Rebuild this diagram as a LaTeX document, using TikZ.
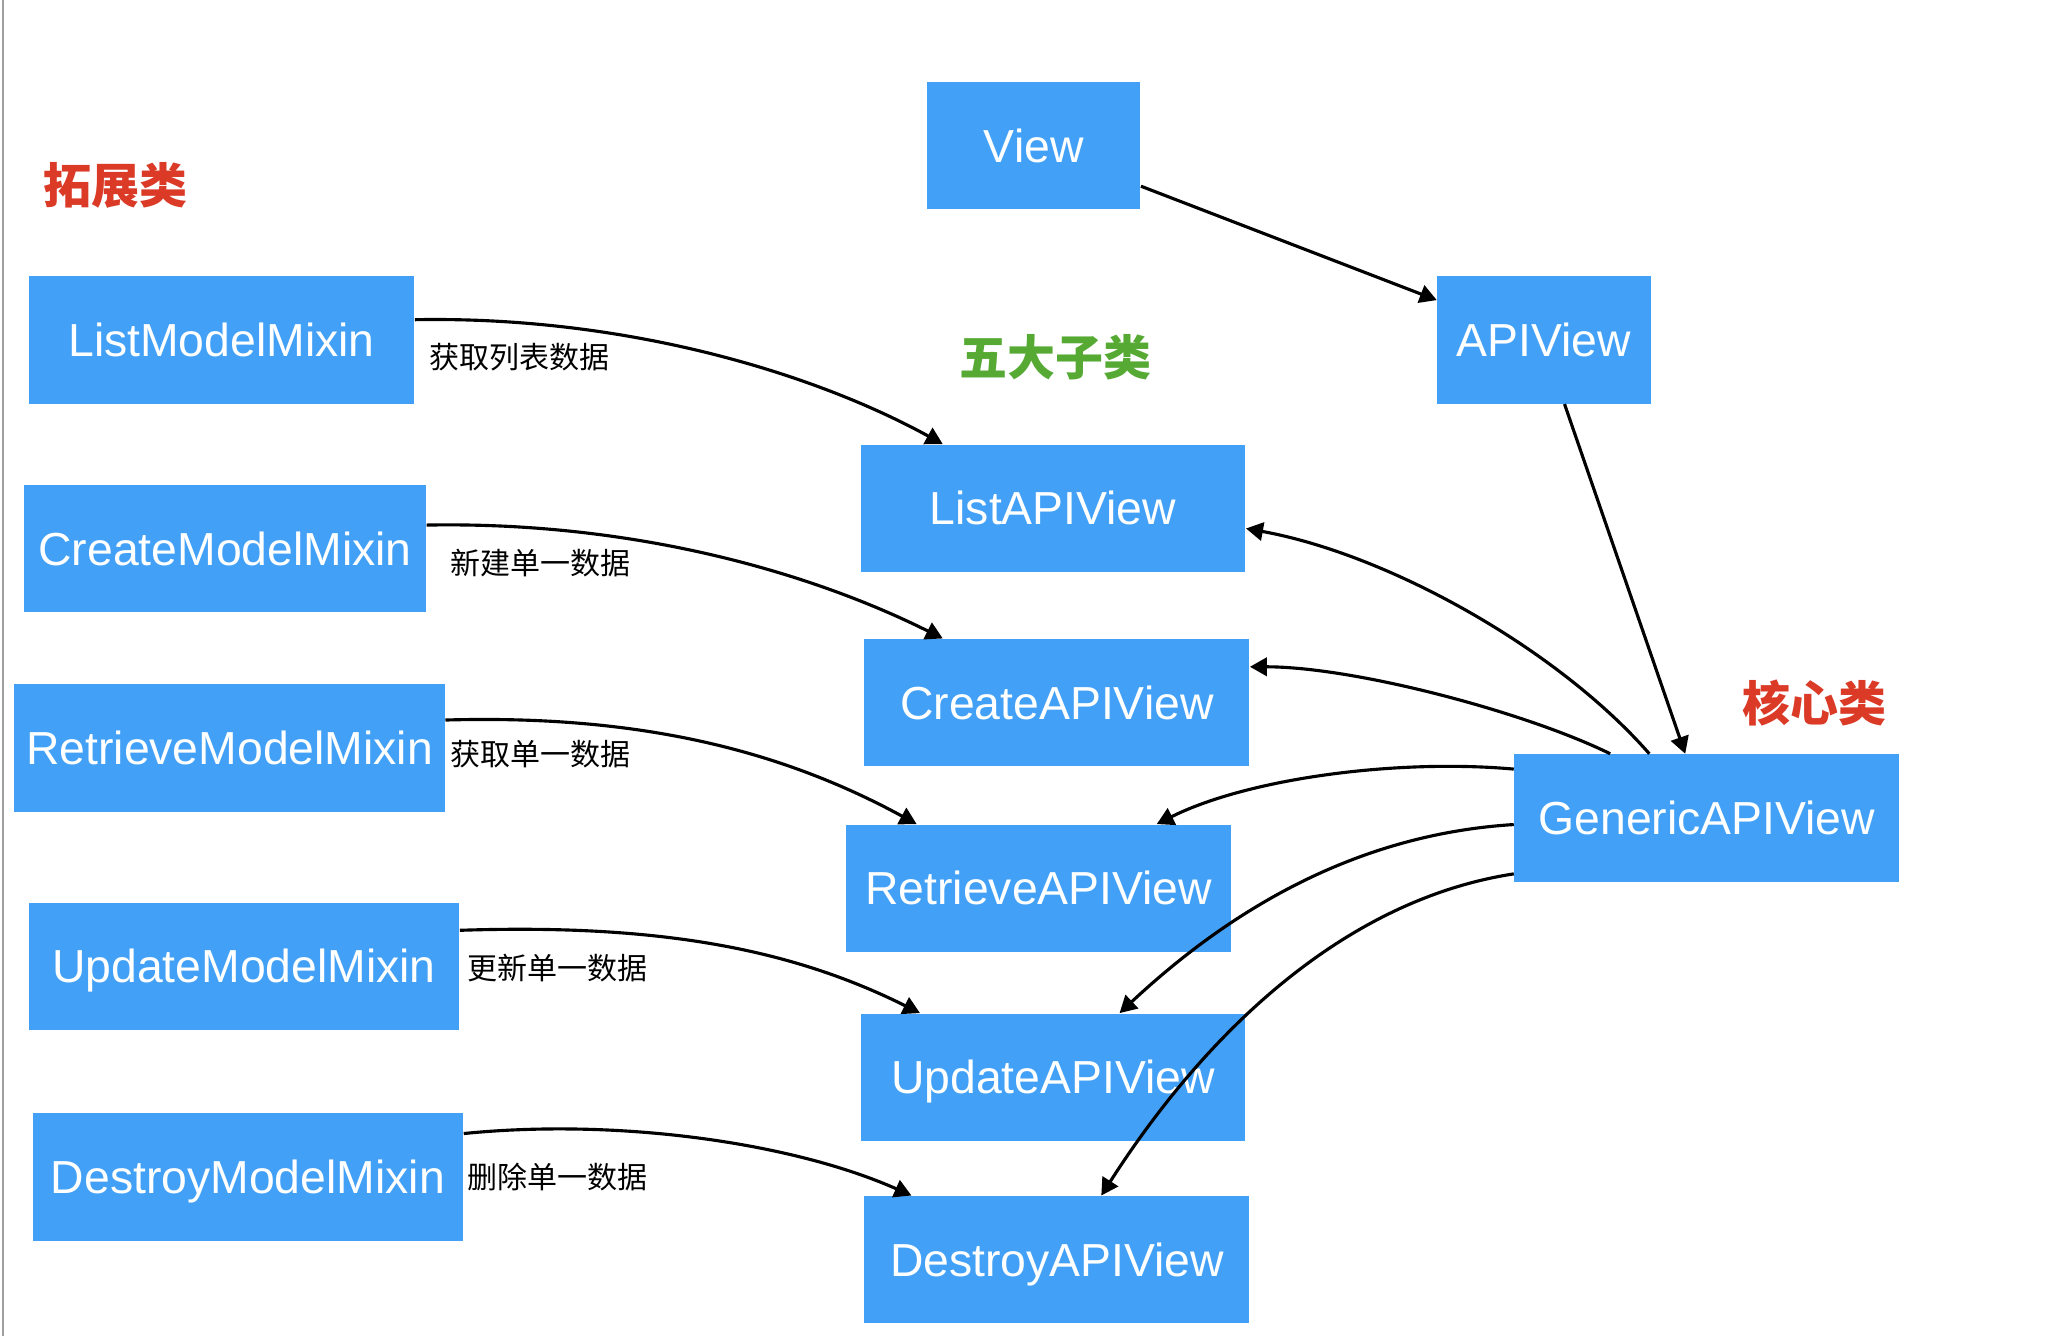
\documentclass[tikz,border=0pt]{standalone}
\usepackage{fontspec}
\setmainfont{Liberation Sans}
\newfontfamily\cjk{Noto Sans CJK SC}
\usetikzlibrary{arrows.meta,calc}
\definecolor{boxblue}{RGB}{66,161,247}
\definecolor{titlered}{RGB}{218,58,38}
\definecolor{titlegreen}{RGB}{86,170,52}
\begin{document}
\begin{tikzpicture}[x=0.5pt,y=-0.5pt,
  box/.style={fill=boxblue, text=white, inner sep=0pt, minimum height=48.75pt,
    text height=12.7pt, text depth=0pt,
    font=\fontsize{17.75}{20}\selectfont, anchor=center},
  arr/.style={-{Triangle[length=6.5pt,width=7pt]}, line width=1.2pt, black},
  lbl/.style={anchor=west, inner sep=0pt, font=\cjk\fontsize{11.5}{13}\selectfont},
  ttl/.style={inner sep=0pt, font=\cjk\bfseries\fontsize{18.4}{22}\selectfont}]
\useasboundingbox (0,0) rectangle (1568,1024);
\fill[white] (0,0) rectangle (1568,1024);
\draw[gray!75, line width=0.8pt] (2.5,0) -- (2.5,1024);

% titles
\node[ttl, text=titlered] (t1) at (88.75,142) {拓展类};
\node[ttl, text=titlegreen] (t2) at (809.25,273.4) {五大子类};
\node[ttl, text=titlered] (t3) at (1390.25,538.6) {核心类};

% top classes
\node[box, minimum width=81.75pt] (view) at (792.25,111.5) {View};
\node[box, minimum width=81.75pt] (apiview) at (1183.25,260.5) {APIView};
\node[box, minimum width=147.5pt] (gen) at (1308,626.8) {GenericAPIView};

% mixins
\node[box, minimum width=147.75pt] (lmm) at (169.75,260.5) {ListModelMixin};
\node[box, minimum width=154pt] (cmm) at (172.5,420.5) {CreateModelMixin};
\node[box, minimum width=165pt] (rmm) at (176,573.2) {RetrieveModelMixin};
\node[box, minimum width=165pt] (umm) at (187,740.45) {UpdateModelMixin};
\node[box, minimum width=165pt] (dmm) at (190,902) {DestroyModelMixin};

% api views
\node[box, minimum width=147.5pt] (lav) at (807,389.45) {ListAPIView};
\node[box, minimum width=147.5pt] (cav) at (810,538.45) {CreateAPIView};
\node[box, minimum width=147.5pt] (rav) at (796,680.7) {RetrieveAPIView};
\node[box, minimum width=147.5pt] (uav) at (807,825.55) {UpdateAPIView};
\node[box, minimum width=147.5pt] (dav) at (810,965.35) {DestroyAPIView};

% labels
\node[lbl] (l1) at (329,274) {获取列表数据};
\node[lbl] (l2) at (345,431.3) {新建单一数据};
\node[lbl] (l3) at (345,577.6) {获取单一数据};
\node[lbl] (l4) at (358,742) {更新单一数据};
\node[lbl] (l5) at (358,902) {删除单一数据};

% inheritance chain
\draw[arr] ($(view.east)+(0,31.2)$) -- ($(apiview.west)+(0,-30.5)$);
\draw[arr] ($(apiview.south)+(15.75,0)$) -- ($(gen.north)+(-16.5,0)$);

% mixins -> api views
\draw[arr] ($(lmm.east)+(0,-15.5)$) .. controls ($(lmm.east)+(160,-18.5)$) and ($(lav.north)+(-184.5,-55)$) .. ($(lav.north)+(-84.5,0)$);
\draw[arr] ($(cmm.east)+(0,-18.1)$) .. controls ($(cmm.east)+(160,-21.1)$) and ($(cav.north)+(-187.5,-50)$) .. ($(cav.north)+(-87.5,0)$);
\draw[arr] ($(rmm.east)+(0,-21.4)$) .. controls ($(rmm.east)+(140,-25.4)$) and ($(rav.north)+(-203.5,-60)$) .. ($(rav.north)+(-93.5,0)$);
\draw[arr] ($(umm.east)+(0,-27.5)$) .. controls ($(umm.east)+(150,-32.5)$) and ($(uav.north)+(-202,-50)$) .. ($(uav.north)+(-102,0)$);
\draw[arr] ($(dmm.east)+(0,-33.3)$) .. controls ($(dmm.east)+(120,-45.3)$) and ($(dav.north)+(-201.5,-40)$) .. ($(dav.north)+(-111.5,0)$);

% generic -> api views
\draw[arr] ($(gen.north)+(-44,0)$) .. controls ($(gen.north)+(-114,-80)$) and ($(lav.east)+(110,35.55)$) .. ($(lav.east)+(0,15.55)$);
\draw[arr] ($(gen.north)+(-74,0)$) .. controls ($(gen.north)+(-139,-32)$) and ($(cav.east)+(80,-27.45)$) .. ($(cav.east)+(0,-27.45)$);
\draw[arr] ($(gen.west)+(0,-37.4)$) .. controls ($(gen.west)+(-90,-45.4)$) and ($(rav.north)+(160.5,-35)$) .. ($(rav.north)+(90.5,0)$);
\draw[arr] ($(gen.west)+(0,5.1)$) .. controls ($(gen.west)+(-130,13.1)$) and ($(uav.north)+(126,-70)$) .. ($(uav.north)+(51,0)$);
\draw[arr] ($(gen.west)+(0,42.9)$) .. controls ($(gen.west)+(-130,62.9)$) and ($(dav.north)+(114,-125)$) .. ($(dav.north)+(34,0)$);
\end{tikzpicture}
\end{document}
